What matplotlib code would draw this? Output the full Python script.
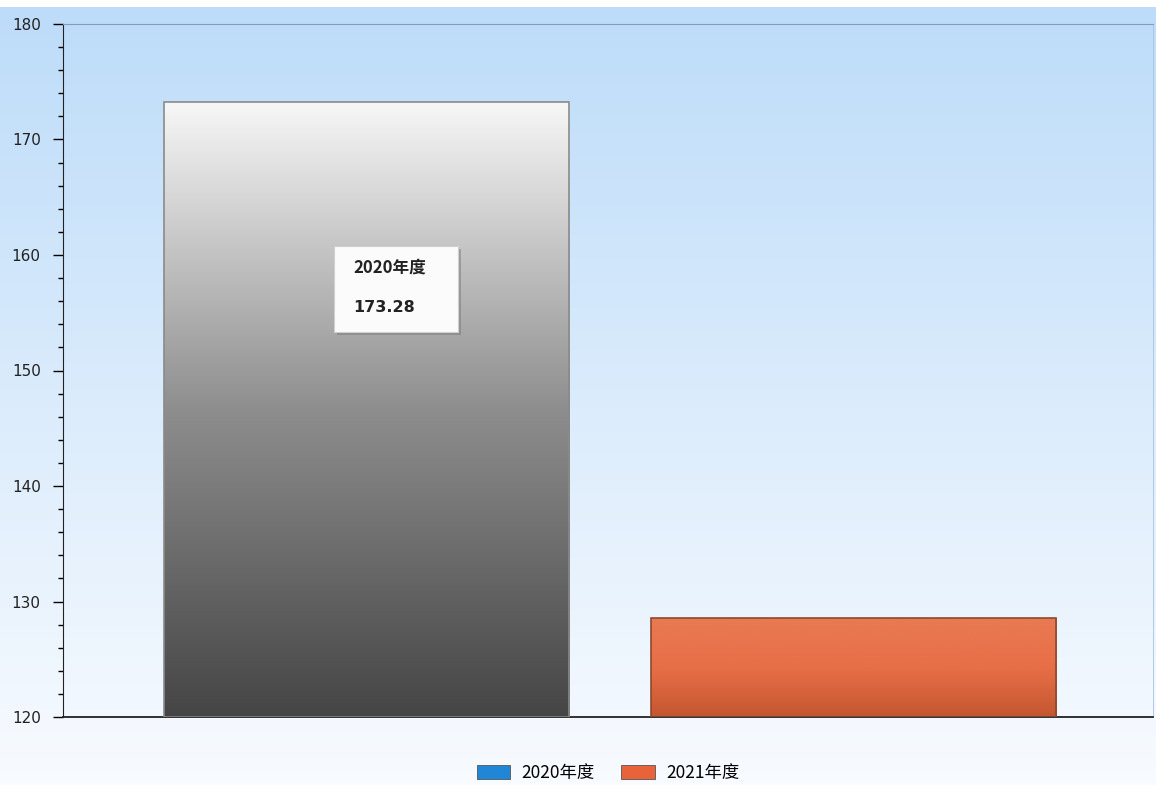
import numpy as np
import matplotlib.pyplot as plt
from matplotlib.colors import LinearSegmentedColormap
from matplotlib.patches import FancyBboxPatch, Rectangle
from matplotlib.ticker import MultipleLocator

plt.rcParams['font.family'] = ['Noto Sans CJK SC', 'DejaVu Sans']

# data
series = ['2020年度', '2021年度']
values = [173.28, 128.6]
legend_colors = ['#1f87d6', '#e8633a']
y_min, y_max = 120, 180

fig = plt.figure(figsize=(11.56, 7.85), dpi=100)

# background gradient over the whole figure
bg = fig.add_axes([0, 0, 1, 1 - 7 / 785], zorder=-10)
bg_cmap = LinearSegmentedColormap.from_list('bg', ['#f8fbff', '#bddcf9'])
bg.imshow(np.linspace(0, 1, 256).reshape(-1, 1), cmap=bg_cmap, aspect='auto',
          origin='lower', extent=[0, 1, 0, 1])
bg.axis('off')

ax = fig.add_axes([63 / 1156, 68 / 785, 1090 / 1156, 693 / 785])
ax.patch.set_alpha(0)

x = np.arange(len(values))
width = 0.832
bars = ax.bar(x, np.array(values) - y_min, width, bottom=y_min,
              color='none', edgecolor='none', zorder=2)

gray_cmap = LinearSegmentedColormap.from_list('gray', ['#454545', '#8e8e8e', '#f7f7f7'])
orange_cmap = LinearSegmentedColormap.from_list('orange', ['#c4562f', '#e86f48', '#e87a52'])
edge_colors = ['#8a8a8a', '#8a4a30']
for bar, cmap, ec in zip(bars, [gray_cmap, orange_cmap], edge_colors):
    x0, w = bar.get_x(), bar.get_width()
    y0, h = bar.get_y(), bar.get_height()
    im = ax.imshow(np.linspace(0, 1, 256).reshape(-1, 1), cmap=cmap, aspect='auto',
                   origin='lower', extent=[x0, x0 + w, y0, y0 + h], zorder=2)
    im.set_clip_path(bar)
    ax.add_patch(Rectangle((x0, y0), w, h, fill=False, edgecolor=ec, lw=1.2, zorder=3))

ax.set_xlim(-0.623, 1.615)
ax.set_ylim(y_min, y_max)

ax.yaxis.set_major_locator(MultipleLocator(10))
ax.yaxis.set_minor_locator(MultipleLocator(2))
ax.tick_params(axis='y', which='major', length=7, width=1, pad=9, labelsize=11,
               labelcolor='#222222')
ax.tick_params(axis='y', which='minor', length=3.5, width=1)
ax.set_xticks([])
for lbl in ax.get_yticklabels():
    lbl.set_family(['DejaVu Sans'])

ax.spines['left'].set_color('#222222')
ax.spines['bottom'].set_color('#222222')
ax.spines['bottom'].set_linewidth(1.3)
ax.spines['top'].set_color('#7f9fc0')
ax.spines['right'].set_color('#a8c4e0')
ax.spines['right'].set_linewidth(0.6)

# tooltip for the first bar
tip = FancyBboxPatch((334 / 1156, 1 - 332 / 785), 124 / 1156, 86 / 785,
                     boxstyle='square,pad=0', transform=fig.transFigure,
                     facecolor='#fbfbfb', edgecolor='#d0d0d0', lw=0.8, zorder=5)
shadow = FancyBboxPatch((337 / 1156, 1 - 335 / 785), 124 / 1156, 86 / 785,
                        boxstyle='square,pad=0', transform=fig.transFigure,
                        facecolor='#777777', edgecolor='none', alpha=0.5, zorder=4)
fig.patches.extend([shadow, tip])
fig.text(353 / 1156, 1 - 268 / 785, series[0], fontsize=12, fontweight='bold',
         color='#222222', va='center', zorder=6)
fig.text(353 / 1156, 1 - 308 / 785, f'{values[0]:.2f}', fontsize=11.5, fontweight='bold',
         color='#222222', va='center', zorder=6, family=['DejaVu Sans'])

# legend
handles = [Rectangle((0, 0), 1, 1, facecolor=c, edgecolor='#555555', lw=0.6)
           for c in legend_colors]
fig.legend(handles, series, loc='center', bbox_to_anchor=(608 / 1156, 1 - 773 / 785),
           ncol=2, frameon=False, fontsize=12.5, handlelength=1.95, handleheight=0.8,
           columnspacing=1.55, handletextpad=0.63)

fig.savefig('out.png', dpi=100)
